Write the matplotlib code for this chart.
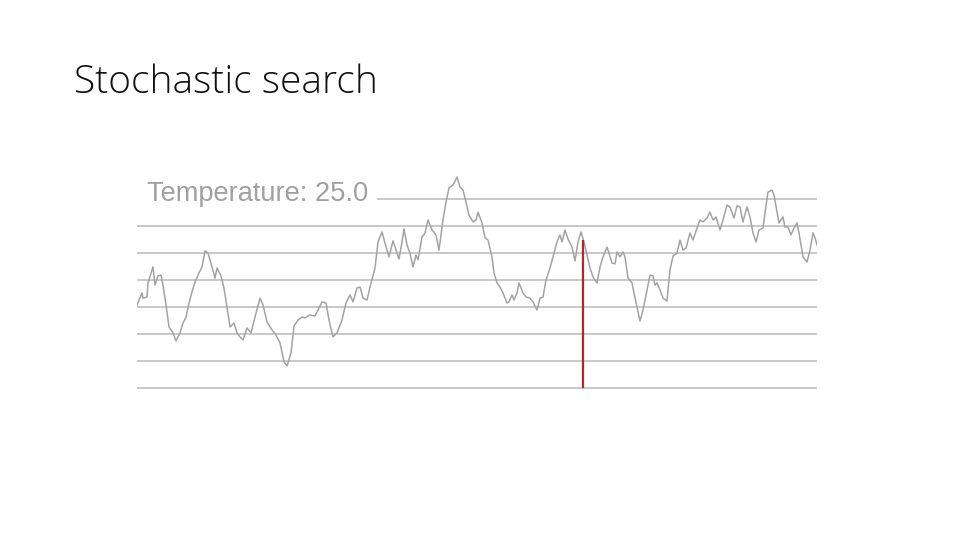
import numpy as np
import matplotlib
matplotlib.use("Agg")
import matplotlib.pyplot as plt

# search trace: iteration vs objective value
step = [0, 5, 6, 10, 11, 16, 18, 21, 24, 26, 29, 32, 36, 39, 43, 46, 49, 52, 55, 58,
        62, 65, 68, 71, 75, 78, 80, 84, 87, 90, 93, 97, 100, 103, 106, 110, 114, 118, 123, 126,
        130, 135, 139, 143, 147, 150, 154, 157, 161, 165, 168, 173, 178, 181, 185, 189, 192, 196, 200, 205,
        209, 213, 216, 220, 223, 226, 230, 233, 238, 241, 245, 248, 252, 256, 260, 262, 265, 267, 270, 273,
        276, 279, 281, 285, 288, 291, 295, 299, 302, 306, 309, 312, 316, 320, 323, 326, 329, 332, 336, 339,
        341, 345, 348, 351, 355, 357, 360, 363, 366, 370, 372, 375, 377, 380, 382, 386, 389, 393, 396, 400,
        403, 406, 409, 413, 416, 420, 423, 425, 428, 431, 435, 438, 441, 444, 447, 450, 453, 456, 460, 463,
        466, 470, 472, 475, 478, 480, 483, 486, 488, 491, 495, 497, 500, 503, 506, 508, 510, 513, 516, 518,
        520, 523, 526, 530, 533, 536, 540, 543, 546, 549, 553, 556, 560, 563, 566, 570, 573, 576, 579, 583,
        586, 590, 593, 597, 600, 603, 606, 610, 613, 616, 619, 622, 626, 628, 631, 635, 637, 640, 642, 646,
        648, 651, 654, 657, 660, 662, 666, 670, 673, 676, 678, 680]
value = [30.8, 35.2, 33.3, 33.7, 38.9, 44.8, 38.1, 41.5, 41.8, 38.1, 30.8, 22.7, 20.5, 17.5, 20.5, 24.1, 26.3, 31.5, 35.6, 39.2,
         42.6, 44.8, 50.7, 49.9, 44.8, 40.7, 44.4, 41.5, 37.0, 30.0, 22.7, 24.1, 20.5, 19.0, 17.9, 22.3, 20.5, 26.3, 33.3, 30.8,
         24.5, 21.6, 19.7, 16.8, 9.8, 8.3, 13.1, 23.0, 25.2, 26.3, 26.0, 27.1, 26.7, 28.9, 31.9, 31.5, 25.2, 19.0, 20.5, 25.2,
         31.5, 34.5, 31.9, 37.0, 37.4, 33.3, 32.6, 37.4, 44.4, 54.0, 57.7, 53.6, 48.5, 54.4, 49.9, 47.7, 54.0, 58.8, 52.9, 49.9,
         44.8, 49.2, 47.4, 55.8, 57.3, 62.1, 58.4, 56.6, 51.0, 62.1, 68.7, 73.9, 75.0, 77.9, 74.3, 73.1, 68.7, 63.9, 61.4, 62.1,
         65.0, 61.0, 55.5, 54.7, 48.5, 42.6, 38.9, 37.4, 35.2, 31.5, 31.9, 34.5, 32.6, 35.2, 38.9, 35.2, 33.7, 33.3, 31.9, 28.9,
         33.3, 33.7, 40.0, 44.4, 48.5, 54.0, 56.6, 54.0, 58.4, 55.1, 52.1, 47.0, 54.0, 57.7, 54.0, 49.2, 44.4, 41.1, 38.9, 44.8,
         48.5, 52.1, 49.9, 46.2, 45.9, 50.3, 48.5, 50.3, 48.5, 40.7, 38.9, 35.2, 30.0, 24.9, 28.9, 32.6, 36.3, 41.8, 41.5, 38.1,
         38.9, 36.3, 33.3, 32.2, 43.7, 48.8, 49.9, 54.7, 51.0, 51.8, 57.3, 54.7, 59.1, 62.1, 61.4, 62.8, 65.0, 62.1, 63.2, 58.4,
         62.1, 67.6, 66.9, 62.8, 67.3, 66.9, 61.4, 66.9, 63.2, 57.3, 54.0, 58.4, 59.1, 64.7, 72.4, 73.1, 71.3, 65.0, 61.0, 63.2,
         59.5, 59.5, 56.6, 59.1, 61.0, 57.3, 48.5, 46.6, 51.0, 57.3, 55.5, 52.9]
grid_levels = [0, 10, 20, 30, 40, 50, 60, 70]
current_step = 446
current_value = 54.7
temperature = 25.0

fig = plt.figure(figsize=(9.6, 5.4), dpi=100)
ax = fig.add_axes([137/960, 1 - 393.9/540, 680/960, 222.5/540])
ax.set_xlim(0, 680)
ax.set_ylim(-2, 80)
ax.axis('off')

# gridlines; the top one starts after the label
for g in grid_levels:
    x0 = 240 if g == grid_levels[-1] else 0
    ax.hlines(g, x0, 680, color='#c8c8c8', lw=1.4, zorder=1)

ax.plot(step, value, color='#a3a3a3', lw=1.1, zorder=2)
ax.vlines(current_step, 0, current_value, color='#b3262b', lw=1.6, zorder=3)

ax.text(10, 69, 'Temperature: %.1f' % temperature, fontsize=19.6,
        family='Liberation Sans', color='#a0a0a0', va='baseline', ha='left')

fig.text(74/960, 1 - 93/540, 'Stochastic search', fontsize=28, family='Open Sans',
         fontweight='light', color='#111111', va='baseline', ha='left')

fig.savefig('out.png', dpi=100)
